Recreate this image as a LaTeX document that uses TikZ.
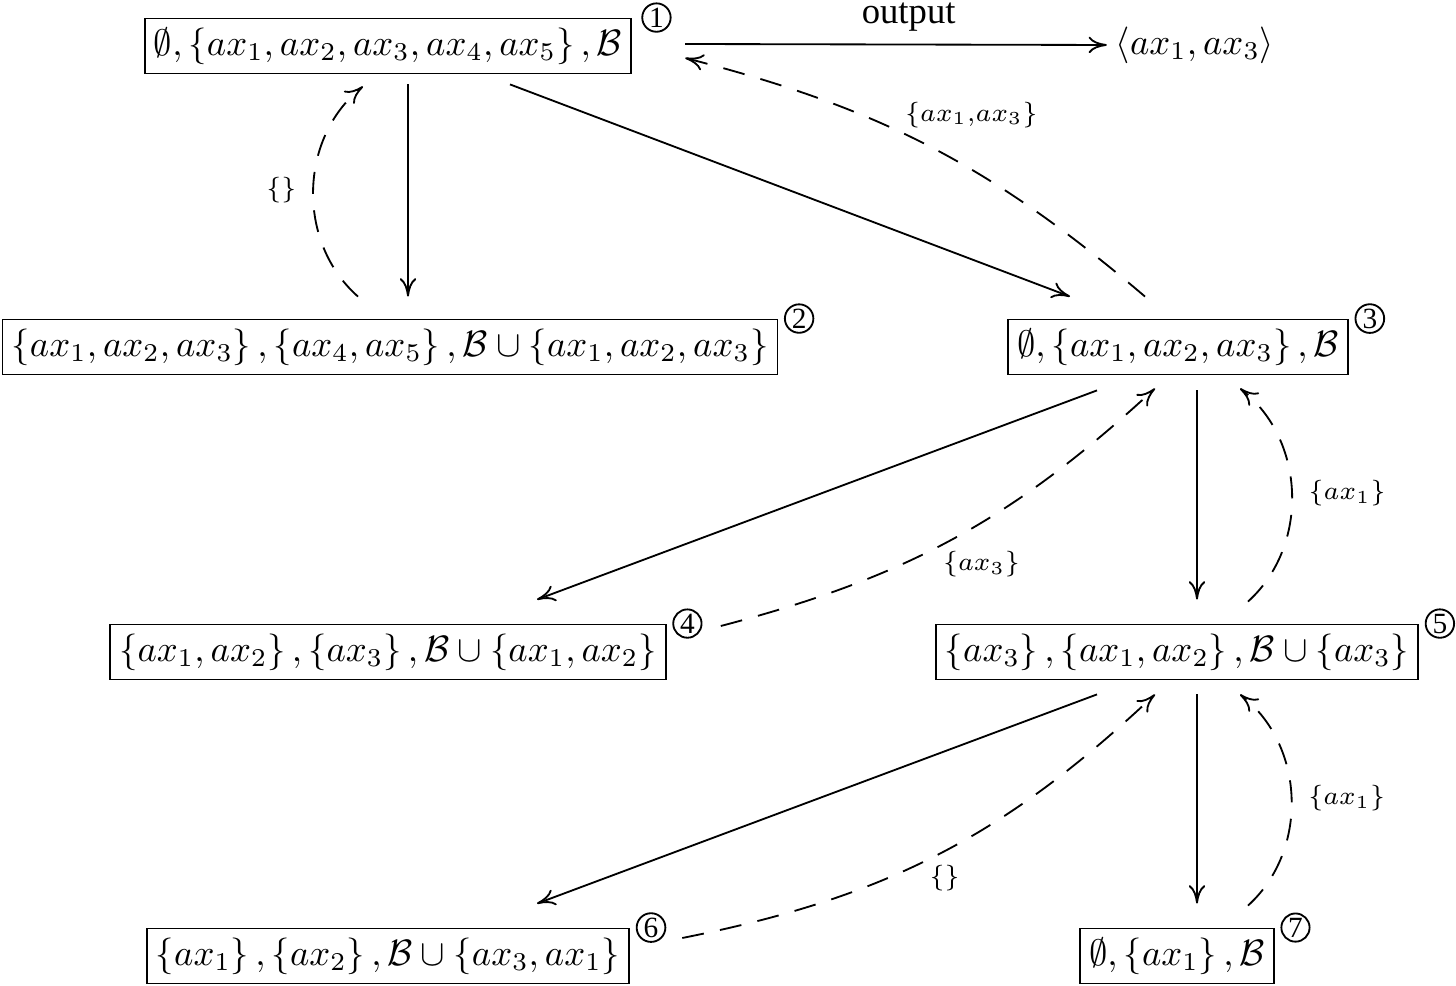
\documentclass[tikz,border=0pt]{standalone}
\usepackage{fontspec}
\setmainfont{Liberation Serif}
\usetikzlibrary{arrows.meta,positioning,calc}

\begin{document}
\begin{tikzpicture}[x=0.00958cm, y=-0.00958cm, line width=0.5pt,
  setbox/.style={draw, inner sep=2.5pt},
  idx/.style={circle, draw, inner sep=0.4pt, font=\footnotesize},
  fwd/.style={-{Computer Modern Rightarrow[length=5pt,width=4.5pt]}},
  back/.style={fwd, dash pattern=on 6pt off 4.5pt},
  lbl/.style={font=\scriptsize}]
  \useasboundingbox (0,0) rectangle (1456,986);

  % the states
  \node[setbox] (n1) at (388,46) {$\emptyset, \left\{ax_1, ax_2, ax_3, ax_4, ax_5\right\}, \mathcal{B}$};
  \node[setbox] (n2) at (390,347) {$\left\{ax_1, ax_2, ax_3\right\}, \left\{ax_4, ax_5\right\}, \mathcal{B} \cup \left\{ax_1, ax_2, ax_3\right\}$};
  \node[setbox] (n3) at (1178,347) {$\emptyset, \left\{ax_1, ax_2, ax_3\right\}, \mathcal{B}$};
  \node[setbox] (n4) at (388,652) {$\left\{ax_1, ax_2\right\}, \left\{ax_3\right\}, \mathcal{B} \cup \left\{ax_1, ax_2\right\}$};
  \node[setbox] (n5) at (1177,652) {$\left\{ax_3\right\}, \left\{ax_1, ax_2\right\}, \mathcal{B} \cup \left\{ax_3\right\}$};
  \node[setbox] (n6) at (388,956) {$\left\{ax_1\right\}, \left\{ax_2\right\}, \mathcal{B} \cup \left\{ax_3, ax_1\right\}$};
  \node[setbox] (n7) at (1177,956) {$\emptyset, \left\{ax_1\right\}, \mathcal{B}$};
  \node[inner sep=0pt] (out) at (1195,45) {$\langle ax_1, ax_3\rangle$};

  % numbers
  \node[idx, right=2.5pt of n1.north east] (i1) {1};
  \node[idx, right=1.5pt of n2.north east] (i2) {2};
  \node[idx, right=1.5pt of n3.north east] (i3) {3};
  \node[idx, right=1.5pt of n4.north east] (i4) {4};
  \node[idx, right=1.5pt of n5.north east] (i5) {5};
  \node[idx, right=1.5pt of n6.north east] (i6) {6};
  \node[idx, right=1.5pt of n7.north east] (i7) {7};

  % forward steps
  \draw[fwd] ($(n1.east)+(53,-2)$) -- node[pos=0.53, above]{output} ($(out.west)+(-8,0)$);
  \draw[fwd] ($(n1.south)+(20,10)$) -- ($(n2.north)+(18,-22)$);
  \draw[fwd] ($(n1.south)+(122,10)$) -- ($(n3.north)+(-108,-22)$);
  \draw[fwd] ($(n3.south)+(-81,15)$) -- ($(n4.north)+(149,-24)$);
  \draw[fwd] ($(n3.south)+(19,15)$) -- ($(n5.north)+(20,-24)$);
  \draw[fwd] ($(n5.south)+(-80,14)$) -- ($(n6.north)+(149,-24)$);
  \draw[fwd] ($(n5.south)+(20,14)$) -- ($(n7.north)+(20,-24)$);

  % backtracking
  \draw[back] ($(n2.north)+(-32,-22)$) to[bend left=50] node[lbl, left=1pt]{$\{\}$} ($(n1.south)+(-25,12)$);
  \draw[back] ($(n3.north)+(-33,-22)$) to[bend right=13] node[lbl, pos=0.57, anchor=south west, inner sep=1pt]{$\{ax_1{,}ax_3\}$} ($(n1.east)+(53,12)$);
  \draw[back] ($(n4.east)+(54,-26)$) to[bend right=14] node[lbl, pos=0.46, anchor=north west, inner sep=1pt]{$\{ax_3\}$} ($(n3.south)+(-23,13)$);
  \draw[back] ($(n5.north)+(71,-22)$) to[bend right=50] node[lbl, right=1pt]{$\{ax_1\}$} ($(n3.south)+(62,13)$);
  \draw[back] ($(n6.east)+(52,-18)$) to[bend right=16] node[lbl, pos=0.47, anchor=north west, inner sep=1pt]{$\{\}$} ($(n5.south)+(-22,14)$);
  \draw[back] ($(n7.north)+(71,-22)$) to[bend right=50] node[lbl, right=1pt]{$\{ax_1\}$} ($(n5.south)+(63,14)$);
\end{tikzpicture}
\end{document}
